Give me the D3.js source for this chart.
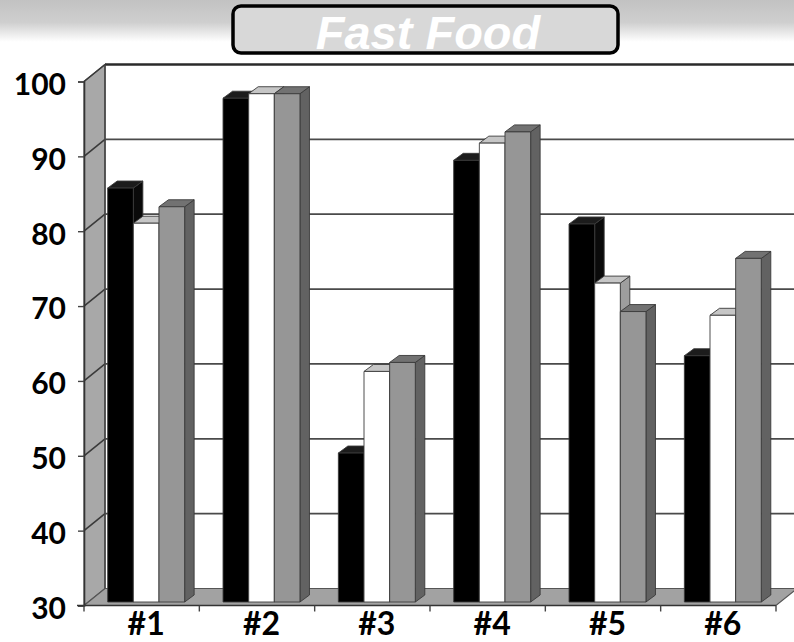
<!DOCTYPE html>
<html>
<head>
<meta charset="utf-8">
<script src="https://cdn.jsdelivr.net/npm/d3@7"></script>
<style>
  html, body { margin: 0; padding: 0; background: #fff; }
  svg { display: block; }
</style>
</head>
<body>
<svg id="chart" width="794" height="642"></svg>
<script>
// ---- data ----
const categories = ["#1", "#2", "#3", "#4", "#5", "#6"];
const seriesNames = ["A", "B", "C"];
const seriesA = [85.3, 97.3, 49.9, 89.0, 80.5, 62.9];
const seriesB = [80.6, 97.9, 60.8, 91.3, 72.6, 68.3];
const seriesC = [82.8, 97.9, 62.0, 92.8, 68.8, 75.9];
const yTicks = [30, 40, 50, 60, 70, 80, 90, 100];
const titleText = "Fast Food";

// face colours for each series: front, top, side
const faceColors = {
  A: { front: "#000000", top: "#1c1c1c", side: "#0a0a0a" },
  B: { front: "#ffffff", top: "#c6c6c6", side: "#9e9e9e" },
  C: { front: "#969696", top: "#727272", side: "#626262" }
};

const svg = d3.select("#chart");
const W = 794, H = 642;

// background with soft grey band at the top
const defs = svg.append("defs");
const bg = defs.append("linearGradient").attr("id", "bgGrad")
  .attr("x1", 0).attr("y1", 0).attr("x2", 0).attr("y2", 1);
bg.append("stop").attr("offset", "0").attr("stop-color", "#c2c2c2");
bg.append("stop").attr("offset", "0.035").attr("stop-color", "#cfcfcf");
bg.append("stop").attr("offset", "0.065").attr("stop-color", "#ffffff");
bg.append("stop").attr("offset", "1").attr("stop-color", "#ffffff");
svg.append("rect").attr("width", W).attr("height", H).attr("fill", "url(#bgGrad)");

// ---- scales ----
const left = 84, right = 776;
const y = d3.scaleLinear().domain([30, 100]).range([605.5, 81.5]);
const x = d3.scaleBand().domain(categories).range([left, right]).padding(0);
const groupGap = x.bandwidth() * 0.333;
const x1 = d3.scaleBand().domain(seriesNames)
  .range([groupGap / 2, x.bandwidth() - groupGap / 2]).padding(0);

// depth of the plot box and of the bars
const depth = { dx: 21, dy: -17 };
const barOff = { dx: 4.5, dy: -3.5 };
const barDepth = { dx: 9.5, dy: -7 };

const y0 = y.domain()[0], yMax = y.domain()[1];
const pt = (px, py) => px + "," + py;

// ---- walls ----
const walls = svg.append("g");
// back wall
walls.append("rect")
  .attr("x", left + depth.dx).attr("y", y(yMax) + depth.dy)
  .attr("width", right - left + 2).attr("height", y(y0) - y(yMax))
  .attr("fill", "#ffffff");
// left side wall
walls.append("polygon")
  .attr("points", [
    pt(left, y(yMax)), pt(left + depth.dx, y(yMax) + depth.dy),
    pt(left + depth.dx, y(y0) + depth.dy), pt(left, y(y0))
  ].join(" "))
  .attr("fill", "#a8a8a8").attr("stroke", "#555").attr("stroke-width", 1.2);
// floor
walls.append("polygon")
  .attr("points", [
    pt(left, y(y0)), pt(right, y(y0)),
    pt(right + depth.dx, y(y0) + depth.dy), pt(left + depth.dx, y(y0) + depth.dy)
  ].join(" "))
  .attr("fill", "#a2a2a2").attr("stroke", "#555").attr("stroke-width", 1.2);

// gridlines on the back wall and the side wall
const grid = svg.append("g");
yTicks.filter(t => t > y0).forEach(t => {
  const yy = y(t);
  grid.append("line")
    .attr("x1", left + depth.dx).attr("x2", W + 5)
    .attr("y1", yy + depth.dy).attr("y2", yy + depth.dy)
    .attr("stroke", t === yMax ? "#2a2a2a" : "#4a4a4a")
    .attr("stroke-width", t === yMax ? 2.4 : 1.8);
  grid.append("line")
    .attr("x1", left).attr("y1", yy)
    .attr("x2", left + depth.dx).attr("y2", yy + depth.dy)
    .attr("stroke", "#3a3a3a").attr("stroke-width", 1.6);
});
// back wall left edge
grid.append("line")
  .attr("x1", left + depth.dx).attr("x2", left + depth.dx)
  .attr("y1", y(yMax) + depth.dy).attr("y2", y(y0) + depth.dy)
  .attr("stroke", "#444").attr("stroke-width", 1.5);

// ---- bars ----
const rows = categories.map((c, i) => ({
  cat: c,
  vals: [
    { key: "A", v: seriesA[i] },
    { key: "B", v: seriesB[i] },
    { key: "C", v: seriesC[i] }
  ]
}));

const bars = svg.append("g");
rows.forEach(r => {
  r.vals.forEach(d => {
    const fx0 = x(r.cat) + x1(d.key) + barOff.dx;
    const fx1 = fx0 + x1.bandwidth();
    const fyTop = y(d.v) + barOff.dy;
    const fyBot = y(y0) + barOff.dy;
    const col = faceColors[d.key];
    const g = bars.append("g")
      .attr("stroke", "#3a3a3a").attr("stroke-width", 0.9)
      .attr("stroke-linejoin", "round");
    // side face
    g.append("polygon").attr("points", [
      pt(fx1, fyTop), pt(fx1 + barDepth.dx, fyTop + barDepth.dy),
      pt(fx1 + barDepth.dx, fyBot + barDepth.dy), pt(fx1, fyBot)
    ].join(" ")).attr("fill", col.side);
    // top face
    g.append("polygon").attr("points", [
      pt(fx0, fyTop), pt(fx0 + barDepth.dx, fyTop + barDepth.dy),
      pt(fx1 + barDepth.dx, fyTop + barDepth.dy), pt(fx1, fyTop)
    ].join(" ")).attr("fill", col.top);
    // front face
    g.append("rect")
      .attr("x", fx0).attr("y", fyTop)
      .attr("width", fx1 - fx0).attr("height", fyBot - fyTop)
      .attr("fill", col.front);
  });
});

// ---- axes ----
const yAxis = d3.axisLeft(y).tickValues(yTicks).tickSize(6).tickPadding(0)
  .tickFormat(d3.format("d"));
const gy = svg.append("g").attr("transform", `translate(${left},0)`).call(yAxis);
gy.select(".domain").attr("stroke", "#333").attr("stroke-width", 1.6);
gy.selectAll(".tick line").attr("stroke", "#444").attr("stroke-width", 1.4);
gy.selectAll(".tick text")
  .attr("x", -18).attr("dy", "0.43em")
  .attr("fill", "#000")
  .style("font-family", "Lato, 'Open Sans', sans-serif")
  .style("font-weight", "700").style("font-size", "30px");

const xAxis = d3.axisBottom(x).tickSize(0).tickPadding(0);
const gx = svg.append("g").attr("transform", `translate(0,${y(y0)})`).call(xAxis);
gx.select(".domain").remove();
gx.append("line").attr("x1", left - 7).attr("x2", right)
  .attr("y1", 0).attr("y2", 0).attr("stroke", "#333").attr("stroke-width", 1.6);
// category boundary ticks
gx.selectAll(".bound").data(d3.range(categories.length + 1)).enter()
  .append("line").attr("class", "bound")
  .attr("x1", i => left + i * x.step()).attr("x2", i => left + i * x.step())
  .attr("y1", 0).attr("y2", 6).attr("stroke", "#444").attr("stroke-width", 1.4);
gx.selectAll(".tick text")
  .attr("x", barOff.dx).attr("y", 29.5).attr("dy", 0)
  .attr("fill", "#000")
  .style("font-family", "Lato, 'Open Sans', sans-serif")
  .style("font-weight", "700").style("font-size", "32px");

// ---- title box ----
const tb = svg.append("g");
tb.append("rect")
  .attr("x", 233).attr("y", 6).attr("width", 385).attr("height", 47)
  .attr("rx", 8).attr("ry", 8)
  .attr("fill", "#d8d8d8").attr("stroke", "#000").attr("stroke-width", 3.5);
tb.append("text")
  .attr("x", 428).attr("y", 49)
  .attr("text-anchor", "middle")
  .attr("fill", "#ffffff")
  .style("font-family", "'Liberation Sans', Arial, sans-serif")
  .style("font-weight", "700").style("font-style", "italic")
  .style("font-size", "47px")
  .text(titleText);
</script>
</body>
</html>
